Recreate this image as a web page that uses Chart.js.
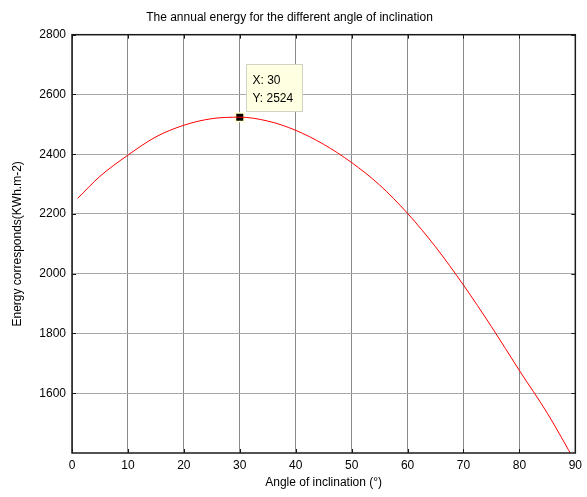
<!DOCTYPE html>
<html>
<head>
<meta charset="utf-8">
<title>Annual energy vs angle of inclination</title>
<script src="https://cdn.jsdelivr.net/npm/chart.js@4.4.0/dist/chart.umd.min.js"></script>
<style>
    html, body { margin: 0; padding: 0; background: #fff; }
    #chartBox { width: 587px; height: 497px; }
</style>
</head>
<body>
<div id="chartBox"><canvas id="energyChart" width="587" height="497"></canvas></div>
<script>
// Angle of inclination (deg) and annual energy (KWh.m-2)
const angles = [1, 5, 10, 15, 20, 25, 30, 35, 40, 45, 50, 55, 60, 65, 70, 75, 80, 85, 90];
const energy = [2252, 2326, 2397, 2458, 2497, 2519, 2524, 2511, 2480, 2433, 2372, 2297, 2202, 2090, 1962, 1823, 1676, 1533, 1370];

const xTicks = [0, 10, 20, 30, 40, 50, 60, 70, 80, 90];
const yTicks = [1600, 1800, 2000, 2200, 2400, 2600, 2800];

// data tip shown on the curve
const tipAngle = 30;
const tipEnergy = 2524;

const FONT = '"Liberation Sans", Arial, Helvetica, sans-serif';
Chart.defaults.font.family = FONT;
Chart.defaults.font.size = 12;
Chart.defaults.color = '#000';

// Box around plot + small inward tick marks (MATLAB look)
const frameAndTicks = {
    id: 'frameAndTicks',
    afterDatasetsDraw(chart) {
        const { ctx, chartArea: a, scales: { x, y } } = chart;
        ctx.save();
        ctx.strokeStyle = '#1a1a1a';
        ctx.lineWidth = 1;
        ctx.beginPath();
        xTicks.forEach(v => {
            const px = Math.round(x.getPixelForValue(v)) + 0.5;
            ctx.moveTo(px, a.bottom); ctx.lineTo(px, a.bottom - 4);
            ctx.moveTo(px, a.top); ctx.lineTo(px, a.top + 4);
        });
        yTicks.forEach(v => {
            const py = Math.round(y.getPixelForValue(v)) + 0.5;
            ctx.moveTo(a.left, py); ctx.lineTo(a.left + 4, py);
            ctx.moveTo(a.right, py); ctx.lineTo(a.right - 4, py);
        });
        ctx.stroke();
        ctx.lineWidth = 1.5;
        ctx.strokeRect(a.left, a.top, a.right - a.left, a.bottom - a.top);
        ctx.restore();
    }
};

// MATLAB style data tip next to the marker
const dataTip = {
    id: 'dataTip',
    afterDraw(chart) {
        const { ctx, scales: { x, y } } = chart;
        const px = x.getPixelForValue(tipAngle);
        const py = y.getPixelForValue(tipEnergy);
        const bx = Math.round(px + 6) + 0.5;
        const by = Math.round(py - 53) + 0.5;
        ctx.save();
        ctx.fillStyle = '#ffffe1';
        ctx.strokeStyle = '#d2d2c4';
        ctx.lineWidth = 1;
        ctx.fillRect(bx, by, 56, 47);
        ctx.strokeRect(bx, by, 56, 47);
        ctx.fillStyle = '#000';
        ctx.font = '12px ' + FONT;
        ctx.textBaseline = 'alphabetic';
        ctx.fillText('X: ' + tipAngle, bx + 6, by + 19);
        ctx.fillText('Y: ' + tipEnergy, bx + 6, by + 37);
        ctx.restore();
    }
};

const ctx = document.getElementById('energyChart').getContext('2d');

new Chart(ctx, {
    type: 'line',
    data: {
        datasets: [{
            label: 'Energy',
            data: angles.map((a, i) => ({ x: a, y: energy[i] })),
            borderColor: '#ff0000',
            borderWidth: 1,
            pointRadius: 0,
            cubicInterpolationMode: 'monotone',
            fill: false
        }, {
            label: 'Tip',
            data: [{ x: tipAngle, y: tipEnergy }],
            showLine: false,
            pointStyle: 'rect',
            pointRadius: 6,
            pointBackgroundColor: '#000',
            pointBorderColor: '#ffffd0',
            pointBorderWidth: 1.5
        }]
    },
    options: {
        responsive: false,
        animation: false,
        layout: { padding: { left: 0, right: 8, top: 0, bottom: 0 } },
        plugins: {
            legend: { display: false },
            tooltip: { enabled: false },
            title: {
                display: true,
                text: 'The annual energy for the different angle of inclination',
                font: { size: 12, weight: 'normal' },
                color: '#000',
                padding: { top: 10, bottom: 10.3 }
            }
        },
        scales: {
            x: {
                type: 'linear',
                min: 0,
                max: 90,
                afterFit: scale => { scale.height = 44; },
                afterBuildTicks: scale => { scale.ticks = xTicks.map(v => ({ value: v })); },
                ticks: {
                    padding: 5,
                    maxRotation: 0,
                    callback: v => String(v)
                },
                grid: { color: '#8a8a8a', lineWidth: 1, drawTicks: false },
                border: { display: false },
                title: {
                    display: true,
                    text: 'Angle of inclination (°)',
                    font: { size: 12 },
                    padding: { top: 0, bottom: 7 }
                }
            },
            y: {
                min: 1400,
                max: 2800,
                afterFit: scale => { scale.width = 72; },
                afterBuildTicks: scale => { scale.ticks = yTicks.map(v => ({ value: v })); },
                ticks: {
                    padding: 6,
                    callback: v => String(v)
                },
                grid: { color: '#a8a8a8', lineWidth: 1, drawTicks: false },
                border: { display: false },
                title: {
                    display: true,
                    text: 'Energy corresponds(KWh.m-2)',
                    font: { size: 12 },
                    padding: { top: 10, bottom: 0 }
                }
            }
        }
    },
    plugins: [frameAndTicks, dataTip]
});

console.log('chart drawn');
</script>
</body>
</html>
